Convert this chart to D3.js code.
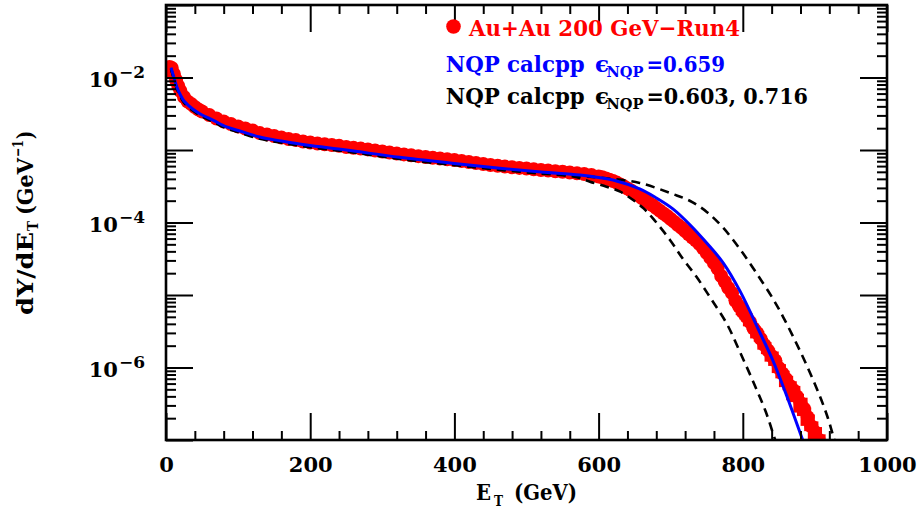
<!DOCTYPE html>
<html><head><meta charset="utf-8">
<script src="https://cdn.jsdelivr.net/npm/d3@7/dist/d3.min.js"></script>
<style>body{margin:0;background:#fff}svg{display:block}</style>
</head><body><svg id="c" width="922" height="509"></svg>
<script>
// ---- Data: Au+Au 200 GeV Run4 (red points) ----
const dataET = [2,5,8,11,14,17,20,25,30,35,40,45,50,60,70,80,90,100,110,120,130,140,150,160,170,180,190,200,
210,220,230,240,250,260,270,280,290,300,310,320,330,340,350,360,370,380,390,400,410,420,430,440,450,460,470,480,490,500,
510,520,530,540,550,560,570,580,590,600,605,610,615,620,625,630,635,640,645,650,655,660,665,670,675,680,685,690,695,700,
705,710,715,720,725,730,735,740,745,750,755,760,765,770,775,780,785,790,795,800,805,810,815,820,825,830,835,840,845,850,
855,860,865,870,875,880,885,890,895,900,905,910];
const dataYield = [1.19e-2,1.40e-2,1.35e-2,1.12e-2,9.24e-3,7.64e-3,6.52e-3,5.38e-3,4.67e-3,4.31e-3,3.92e-3,3.62e-3,3.40e-3,
3.04e-3,2.72e-3,2.47e-3,2.28e-3,2.11e-3,1.98e-3,1.86e-3,1.71e-3,1.64e-3,1.56e-3,1.49e-3,1.42e-3,1.37e-3,1.31e-3,1.27e-3,
1.23e-3,1.20e-3,1.17e-3,1.14e-3,1.10e-3,1.07e-3,1.045e-3,1.02e-3,9.85e-4,9.53e-4,9.22e-4,8.95e-4,8.70e-4,8.48e-4,8.23e-4,
8.00e-4,7.82e-4,7.64e-4,7.46e-4,7.28e-4,7.05e-4,6.83e-4,6.62e-4,6.41e-4,6.22e-4,6.05e-4,5.90e-4,5.77e-4,5.66e-4,5.56e-4,
5.43e-4,5.30e-4,5.20e-4,5.10e-4,5.00e-4,4.90e-4,4.79e-4,4.67e-4,4.52e-4,4.31e-4,4.20e-4,4.05e-4,3.90e-4,3.73e-4,3.55e-4,
3.34e-4,3.15e-4,2.94e-4,2.76e-4,2.55e-4,2.37e-4,2.18e-4,2.03e-4,1.86e-4,1.73e-4,1.58e-4,1.45e-4,1.33e-4,1.23e-4,1.12e-4,
1.02e-4,9.24e-5,8.45e-5,7.64e-5,6.85e-5,6.21e-5,5.62e-5,5.05e-5,4.40e-5,3.79e-5,3.25e-5,2.76e-5,2.32e-5,1.83e-5,1.52e-5,
1.25e-5,1.06e-5,8.26e-6,6.95e-6,5.83e-6,5.00e-6,4.25e-6,3.45e-6,2.99e-6,2.48e-6,2.04e-6,1.72e-6,1.44e-6,1.25e-6,9.84e-7,
8.25e-7,6.93e-7,5.60e-7,4.90e-7,3.98e-7,3.24e-7,2.70e-7,2.07e-7,1.55e-7,1.29e-7,1.02e-7,8.26e-8];
// relative errors
const dataErr = [0.02,0.02,0.02,0.02,0.02,0.02,0.02,0.02,0.02,0.02,0.02,0.02,0.02,0.02,0.02,0.02,0.02,0.02,0.02,0.02,
0.02,0.02,0.02,0.02,0.02,0.02,0.02,0.02,0.02,0.02,0.02,0.02,0.02,0.02,0.02,0.02,0.02,0.02,0.02,0.02,0.02,0.02,0.02,0.02,
0.02,0.02,0.02,0.02,0.02,0.02,0.02,0.02,0.02,0.02,0.02,0.02,0.02,0.02,0.02,0.02,0.02,0.02,0.02,0.02,0.02,0.02,0.02,0.03,
0.03,0.04,0.03,0.04,0.05,0.04,0.05,0.06,0.05,0.06,0.07,0.06,0.07,0.08,0.07,0.08,0.10,0.08,0.10,0.09,0.12,0.10,0.12,0.14,
0.11,0.13,0.15,0.13,0.16,0.14,0.18,0.15,0.19,0.17,0.21,0.18,0.22,0.20,0.24,0.21,0.26,0.22,0.27,0.24,0.29,0.25,0.30,0.27,
0.33,0.28,0.35,0.30,0.37,0.32,0.40,0.34,0.42,0.36,0.45,0.40,0.48,0.45];

// ---- NQP calcpp, eps_NQP = 0.659 (blue) ----
const nqpET = [7,10,15,20,25,37,50,65,84,100,130,160,195,250,324,400,463,520,574,600,620,657,680,703,727,750,773,796,824,842,861,883,892];
const nqpYield = [1.365e-2,1.08e-2,7.40e-3,5.74e-3,4.74e-3,3.68e-3,3.04e-3,2.59e-3,2.08e-3,1.86e-3,1.51e-3,1.33e-3,1.17e-3,
1.0e-3,7.93e-4,6.52e-4,5.60e-4,4.98e-4,4.52e-4,4.18e-4,3.86e-4,2.90e-4,2.18e-4,1.54e-4,9.24e-5,5.21e-5,2.76e-5,1.14e-5,
2.99e-6,1.23e-6,4.04e-7,1.0e-7,5.6e-8];

// ---- NQP calcpp, eps_NQP = 0.603 (black dashed, lower) ----
const lowET = [7,10,15,20,25,37,50,65,84,100,130,160,195,250,324,400,463,520,550,570,588,611,630,648,662,675,699,717,736,757,778,796,814,832,845,852];
const lowYield = [1.30e-2,1.03e-2,7.03e-3,5.45e-3,4.50e-3,3.50e-3,2.89e-3,2.46e-3,1.98e-3,1.77e-3,1.43e-3,1.26e-3,1.11e-3,
9.5e-4,7.53e-4,6.19e-4,5.32e-4,4.73e-4,4.48e-4,4.20e-4,3.66e-4,3.12e-4,2.66e-4,2.04e-4,1.58e-4,1.15e-4,5.74e-5,3.14e-5,
1.77e-5,8.53e-6,3.98e-6,1.64e-6,6.52e-7,2.43e-7,1.0e-7,6.5e-8];

// ---- NQP calcpp, eps_NQP = 0.716 (black dashed, upper) ----
const highET = [7,10,15,20,25,37,50,65,84,100,130,160,195,250,324,400,463,520,574,611,657,703,727,750,773,796,818,842,856,870,884,897,909,918,925,931];
const highYield = [1.32e-2,1.05e-2,7.18e-3,5.57e-3,4.60e-3,3.57e-3,2.95e-3,2.51e-3,2.02e-3,1.80e-3,1.46e-3,1.29e-3,1.13e-3,
9.7e-4,7.69e-4,6.32e-4,5.43e-4,4.83e-4,4.38e-4,4.07e-4,3.51e-4,2.47e-4,1.98e-4,1.40e-4,8.40e-5,4.31e-5,2.07e-5,8.81e-6,
4.97e-6,2.64e-6,1.35e-6,6.94e-7,3.56e-7,2.01e-7,1.17e-7,7.28e-8];

const xMajor = [0,200,400,600,800,1000];
const xMinor = [40,80,120,160,240,280,320,360,440,480,520,560,640,680,720,760,840,880,920,960];
const yDecades = [1e-7,1e-6,1e-5,1e-4,1e-3,1e-2,1e-1];
const yLabelExps = [-2,-4,-6];

// ---- drawing ----
const FONT = "'DejaVu Serif', serif";
const svg = d3.select('#c');
const L=166, R=887, T=5, B=440;
const x = d3.scaleLinear().domain([0,1000]).range([L,R]);
const y = d3.scaleLog().domain([1e-7,1e-1]).range([B,T]);

svg.append('defs').append('clipPath').attr('id','pa')
  .append('rect').attr('x',L).attr('y',T).attr('width',R-L).attr('height',B-T);

const plot = svg.append('g').attr('clip-path','url(#pa)');
const pts = dataET.map((e,i)=>({e, v:dataYield[i], r:dataErr[i]}));
plot.selectAll('rect.err').data(pts.filter(d=>d.r>0.03)).join('rect').attr('class','err')
  .attr('x',d=>x(d.e)-3.5).attr('width',7)
  .attr('y',d=>y(d.v*(1+d.r))).attr('height',d=>y(d.v*(1-d.r))-y(d.v*(1+d.r)))
  .attr('fill','#ff0000');
plot.selectAll('circle.pt').data(pts).join('circle').attr('class','pt')
  .attr('cx',d=>x(d.e)).attr('cy',d=>y(d.v)).attr('r',7).attr('fill','#ff0000');

function curve(ets, vals){
  return d3.line().x(i=>x(ets[i])).y(i=>y(vals[i])).curve(d3.curveCatmullRom.alpha(0.5))(d3.range(ets.length));
}
plot.append('path').attr('d',curve(lowET,lowYield)).attr('fill','none').attr('stroke','#000')
  .attr('stroke-width',2.6).attr('stroke-dasharray','9,6');
plot.append('path').attr('d',curve(highET,highYield)).attr('fill','none').attr('stroke','#000')
  .attr('stroke-width',2.6).attr('stroke-dasharray','9,6');
plot.append('path').attr('d',curve(nqpET,nqpYield)).attr('fill','none').attr('stroke','#0000ff')
  .attr('stroke-width',3);

// axes
function styleAxis(g){ g.select('.domain').remove(); g.selectAll('.tick line').attr('stroke','#000').attr('stroke-width',2); }
const yMinor = [];
yDecades.slice(0,-1).forEach(d=>{ for(let k=2;k<=9;k++) yMinor.push(d*k); });

svg.append('g').attr('transform',`translate(0,${B})`)
  .call(d3.axisBottom(x).tickValues(xMajor).tickSize(-27).tickPadding(17).tickFormat(d3.format('d')))
  .call(styleAxis)
  .call(g=>g.selectAll('text').attr('font-family',FONT).attr('font-weight','bold').attr('font-size',21).attr('fill','#000'));
svg.append('g').attr('transform',`translate(0,${B})`)
  .call(d3.axisBottom(x).tickValues(xMinor).tickSize(-9).tickFormat('')).call(styleAxis);
svg.append('g').attr('transform',`translate(0,${T})`)
  .call(d3.axisTop(x).tickValues(xMajor).tickSize(-27).tickFormat('')).call(styleAxis);
svg.append('g').attr('transform',`translate(0,${T})`)
  .call(d3.axisTop(x).tickValues(xMinor).tickSize(-9).tickFormat('')).call(styleAxis);
svg.append('g').attr('transform',`translate(${L},0)`)
  .call(d3.axisLeft(y).tickValues(yDecades).tickSize(-27).tickFormat('')).call(styleAxis);
svg.append('g').attr('transform',`translate(${L},0)`)
  .call(d3.axisLeft(y).tickValues(yMinor).tickSize(-10).tickFormat('')).call(styleAxis);
svg.append('g').attr('transform',`translate(${R},0)`)
  .call(d3.axisRight(y).tickValues(yDecades).tickSize(-27).tickFormat('')).call(styleAxis);
svg.append('g').attr('transform',`translate(${R},0)`)
  .call(d3.axisRight(y).tickValues(yMinor).tickSize(-10).tickFormat('')).call(styleAxis);

// y tick labels 10^n
yLabelExps.forEach(p=>{
  const t = svg.append('text').attr('x',145).attr('y',y(Math.pow(10,p))+9.5).attr('text-anchor','end')
    .attr('font-family',FONT).attr('font-weight','bold').attr('font-size',21).attr('fill','#000');
  t.append('tspan').text('10');
  t.append('tspan').attr('dy',-9.5).attr('dx',1).attr('font-size',17).text('\u2212'+Math.abs(p));
});

// frame
svg.append('rect').attr('x',L).attr('y',T).attr('width',R-L).attr('height',B-T)
  .attr('fill','none').attr('stroke','#000').attr('stroke-width',2.6);

// text helper
function txt(parent, s, px, py, size, color, len){
  const t = parent.append('text').attr('x',px).attr('y',py).text(s)
    .attr('font-family',FONT).attr('font-weight','bold').attr('font-size',size).attr('fill',color);
  if(len) t.attr('textLength',len).attr('lengthAdjust','spacingAndGlyphs');
  return t;
}

// legend
svg.append('circle').attr('cx',453.5).attr('cy',26.5).attr('r',7.3).attr('fill','#ff0000');
txt(svg,'Au+Au 200 GeV\u2212Run4',469,36,23,'#ff0000',271);
[[71.7,'#0000ff','=0.659',78.5],[104,'#000','=0.603, 0.716',161.5]].forEach(([by,col,val,vl])=>{
  txt(svg,'NQP calcpp',445.7,by,23,col,139);
  txt(svg,'\u03F5',595,by,23,col);
  txt(svg,'NQP',606.5,by+5,14,col,37);
  txt(svg,val,646.5,by,23,col,vl);
});

// x title
txt(svg,'E',476,500,23,'#000',15);
txt(svg,'T',494,506,14,'#000',9);
txt(svg,'(GeV)',514,500,23,'#000',63);

// y title (rotated)
const yt = svg.append('g').attr('transform','translate(33,315) rotate(-90)');
txt(yt,'dY/dE',0,0,23,'#000',83);
txt(yt,'T',84,5,14,'#000',10);
txt(yt,'(GeV',100,0,23,'#000',57);
txt(yt,'\u22121',158,-10,15,'#000',17);
txt(yt,')',176,0,23,'#000',8);
</script></body></html>
